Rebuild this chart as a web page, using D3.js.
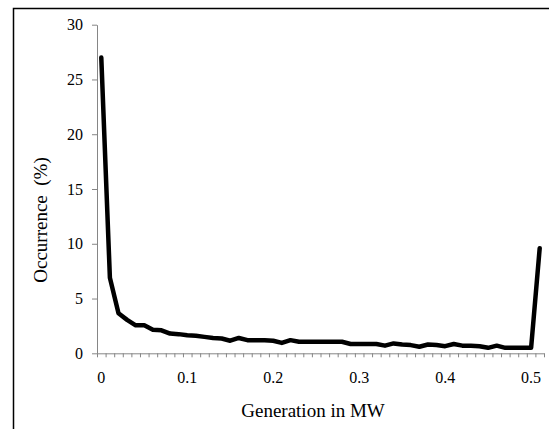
<!DOCTYPE html>
<html>
<head>
  <style>
    body {
      margin: 0;
      background: #fff;
    }
    .axis path, .axis line {
      stroke: #868686;
      stroke-width: 1px;
    }
  </style>
  <script src="https://d3js.org/d3.v7.min.js"></script>
</head>
<body>
<div class="chart"></div>
<script>
// generation bins (MW) and occurrence (%)
const generation = [0, 0.01, 0.02, 0.03, 0.04, 0.05, 0.06, 0.07, 0.08, 0.09,
  0.1, 0.11, 0.12, 0.13, 0.14, 0.15, 0.16, 0.17, 0.18, 0.19,
  0.2, 0.21, 0.22, 0.23, 0.24, 0.25, 0.26, 0.27, 0.28, 0.29,
  0.3, 0.31, 0.32, 0.33, 0.34, 0.35, 0.36, 0.37, 0.38, 0.39,
  0.4, 0.41, 0.42, 0.43, 0.44, 0.45, 0.46, 0.47, 0.48, 0.49,
  0.5, 0.51];
const occurrence = [27.0, 6.9, 3.65, 3.05, 2.55, 2.55, 2.15, 2.1, 1.8, 1.75,
  1.65, 1.6, 1.5, 1.4, 1.35, 1.15, 1.4, 1.2, 1.2, 1.2,
  1.15, 0.95, 1.2, 1.05, 1.05, 1.05, 1.05, 1.05, 1.05, 0.85,
  0.85, 0.85, 0.85, 0.7, 0.9, 0.8, 0.75, 0.6, 0.8, 0.75,
  0.65, 0.85, 0.7, 0.7, 0.65, 0.5, 0.7, 0.5, 0.5, 0.5,
  0.5, 9.6];
const xTickLabels = [0, 0.1, 0.2, 0.3, 0.4, 0.5];
const yTicks = [0, 5, 10, 15, 20, 25, 30];

const width = 549;
const height = 429;
const plot = {left: 97, right: 544, top: 24.7, bottom: 353.3};
const serif = '"Liberation Serif", "Times New Roman", Times, "DejaVu Serif", serif';

const svg = d3.select('.chart')
  .append('svg')
  .attr('width', width)
  .attr('height', height);

// outer frame (only top and left edges fall inside the picture)
svg.append('rect')
  .attr('x', 13.5)
  .attr('y', 8.5)
  .attr('width', 700)
  .attr('height', 700)
  .attr('fill', 'none')
  .attr('stroke', '#000')
  .attr('stroke-width', 1.5);

const x = d3.scaleBand()
  .domain(generation)
  .range([plot.left, plot.right])
  .padding(0);

const xEdges = d3.scaleLinear()
  .domain([0, generation.length])
  .range([plot.left, plot.right]);

const y = d3.scaleLinear()
  .domain([0, 30])
  .range([plot.bottom, plot.top]);

// y axis
svg.append('g')
  .attr('class', 'axis')
  .attr('transform', `translate(${plot.left},0)`)
  .call(d3.axisLeft(y).tickValues(yTicks).tickSize(5).tickSizeOuter(0).tickPadding(9))
  .call(g => g.attr('font-family', null))
  .call(g => g.selectAll('text')
    .style('font-family', serif)
    .style('font-size', '16px')
    .attr('fill', '#000'));

// x axis: tick marks between categories
svg.append('g')
  .attr('class', 'axis')
  .attr('transform', `translate(0,${plot.bottom})`)
  .call(d3.axisBottom(xEdges).tickValues(d3.range(generation.length + 1)).tickFormat('').tickSize(4).tickSizeOuter(0));

// x labels every 0.1
svg.append('g')
  .selectAll('text')
  .data(xTickLabels)
  .join('text')
  .attr('x', d => x(generation.find(g => Math.abs(g - d) < 1e-9)) + x.bandwidth() / 2)
  .attr('y', 383)
  .attr('text-anchor', 'middle')
  .style('font-family', serif)
  .style('font-size', '16px')
  .text(d => d);

// series line
const line = d3.line()
  .x((d, i) => x(generation[i]) + x.bandwidth() / 2)
  .y(d => y(d));

svg.append('path')
  .datum(occurrence)
  .attr('d', line)
  .attr('fill', 'none')
  .attr('stroke', '#000')
  .attr('stroke-width', 4.5)
  .attr('stroke-linejoin', 'round')
  .attr('stroke-linecap', 'round');

// axis titles
svg.append('text')
  .attr('x', 313)
  .attr('y', 417)
  .attr('text-anchor', 'middle')
  .style('font-family', serif)
  .style('font-size', '19px')
  .text('Generation in MW');

svg.append('text')
  .attr('transform', 'translate(47,220) rotate(-90)')
  .attr('text-anchor', 'middle')
  .style('font-family', serif)
  .style('font-size', '19px')
  .style('white-space', 'pre')
  .text('Occurrence  (%)');
</script>
</body>
</html>
